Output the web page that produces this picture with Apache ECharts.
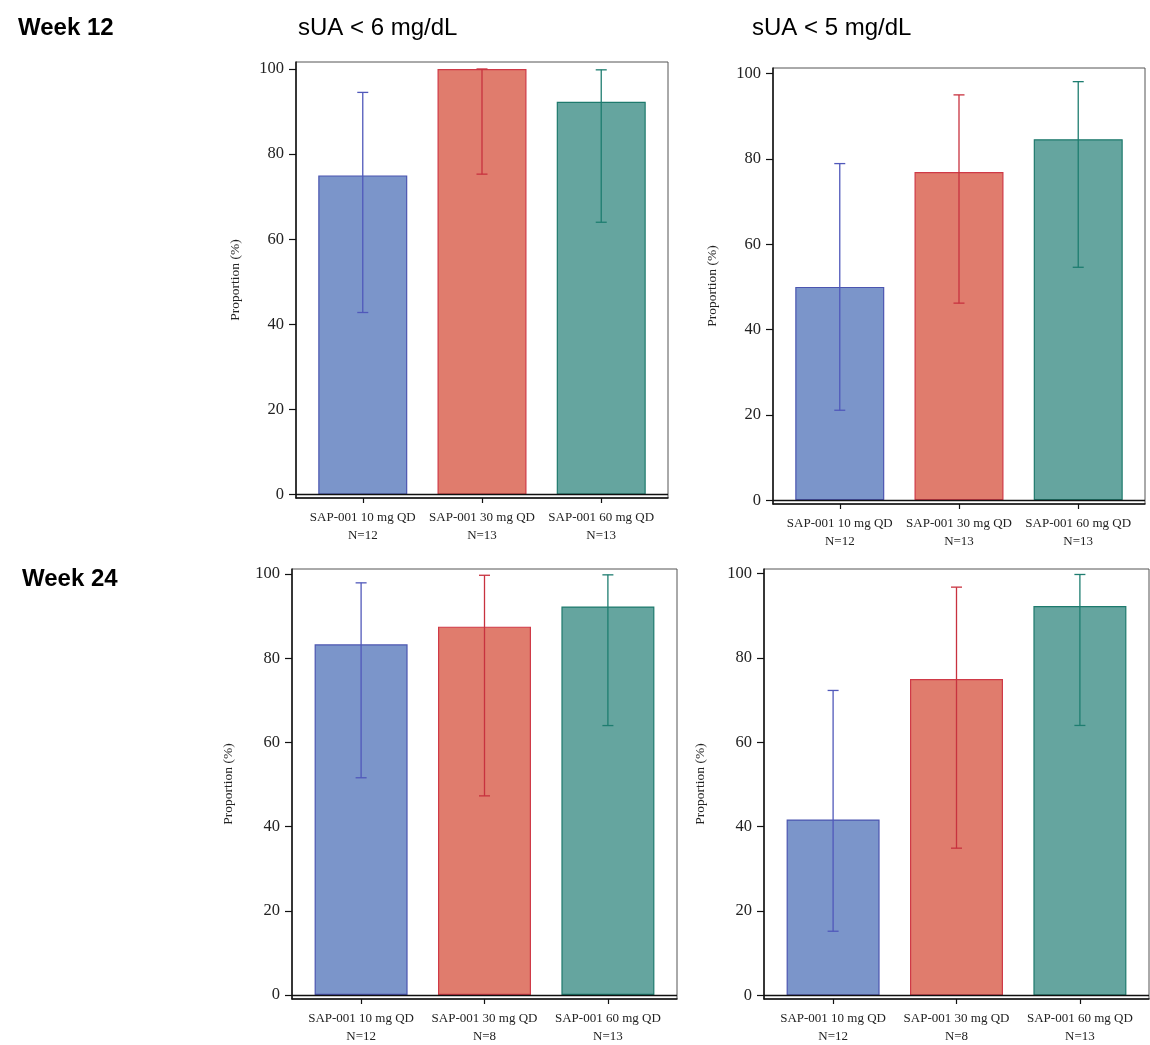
<!DOCTYPE html>
<html>
<head>
<meta charset="utf-8">
<script src="https://cdn.jsdelivr.net/npm/echarts@6/dist/echarts.min.js"></script>
<style>
html,body{margin:0;padding:0;background:#fff;}
#chart{width:1150px;height:1045px;}
</style>
</head>
<body>
<div id="chart"></div>
<script>
// ---- Data ----
const categories = ['SAP-001 10 mg QD', 'SAP-001 30 mg QD', 'SAP-001 60 mg QD'];
const nWeek12 = [12, 13, 13];
const nWeek24 = [12, 8, 13];
const yTicks = [0, 20, 40, 60, 80, 100];

const w12Lt6 = [75.0, 100.0, 92.3];
const w12Lt6Lo = [42.8, 75.3, 64.0];
const w12Lt6Hi = [94.5, 100.0, 99.8];

const w12Lt5 = [50.0, 76.9, 84.6];
const w12Lt5Lo = [21.1, 46.2, 54.6];
const w12Lt5Hi = [78.9, 95.0, 98.1];

const w24Lt6 = [83.3, 87.5, 92.3];
const w24Lt6Lo = [51.6, 47.3, 64.0];
const w24Lt6Hi = [97.9, 99.7, 99.8];

const w24Lt5 = [41.7, 75.0, 92.3];
const w24Lt5Lo = [15.2, 34.9, 64.0];
const w24Lt5Hi = [72.3, 96.8, 99.8];

const fillColors = ['#7B95CA', '#E07C6D', '#65A59F'];
const borderColors = ['#4B55B0', '#CF3A47', '#1E7A6D'];
const errColors = ['#5058BA', '#C8323F', '#1E7D70'];

// ---- Layout ----
const panels = [
  {left: 296, top: 62, width: 372, height: 436, ymin: -0.77, ymax: 101.64, bw: 89, nameGap: 54,
   vals: w12Lt6, lo: w12Lt6Lo, hi: w12Lt6Hi, ns: nWeek12},
  {left: 773, top: 68, width: 372, height: 436, ymin: -0.87, ymax: 101.3, bw: 89, nameGap: 54,
   vals: w12Lt5, lo: w12Lt5Lo, hi: w12Lt5Hi, ns: nWeek12},
  {left: 292, top: 569, width: 385, height: 431, ymin: -0.95, ymax: 101.19, bw: 93, nameGap: 57,
   vals: w24Lt6, lo: w24Lt6Lo, hi: w24Lt6Hi, ns: nWeek24},
  {left: 764, top: 569, width: 385, height: 433, ymin: -0.87, ymax: 101.1, bw: 93, nameGap: 57,
   vals: w24Lt5, lo: w24Lt5Lo, hi: w24Lt5Hi, ns: nWeek24}
];

const serif = '"Liberation Serif", "Times New Roman", serif';
const sans = '"Liberation Sans", Arial, sans-serif';

const grids = [], xAxes = [], yAxes = [], series = [];
panels.forEach((p, k) => {
  grids.push({left: p.left, top: p.top, width: p.width, height: p.height,
    show: true, borderColor: '#555', borderWidth: 1, backgroundColor: 'transparent'});
  xAxes.push({
    type: 'value', gridIndex: k, min: -0.56, max: 2.56,
    splitLine: {show: false},
    axisLine: {show: true, onZero: false, lineStyle: {color: '#111', width: 1.5}},
    axisTick: {show: true, length: 5, customValues: [0, 1, 2], lineStyle: {color: '#111', width: 1.2}},
    axisLabel: {
      customValues: [0, 1, 2], margin: 11,
      fontFamily: serif, fontSize: 13, color: '#222', lineHeight: 17.5,
      formatter: function (v) {
        const i = Math.round(v);
        return categories[i] + '\n' + 'N=' + p.ns[i];
      }
    }
  });
  yAxes.push({
    type: 'value', gridIndex: k, min: p.ymin, max: p.ymax,
    name: 'Proportion (%)', nameLocation: 'middle', nameRotate: 90, nameGap: p.nameGap,
    nameTextStyle: {fontFamily: serif, fontSize: 13.5, color: '#222'},
    splitLine: {show: false},
    axisLine: {show: true, onZero: false, lineStyle: {color: '#111', width: 1.5}},
    axisTick: {show: true, length: 7, customValues: yTicks, lineStyle: {color: '#111', width: 1.2}},
    axisLabel: {customValues: yTicks, margin: 12, fontFamily: serif, fontSize: 16.5, color: '#222'}
  });
  series.push({
    type: 'bar', xAxisIndex: k, yAxisIndex: k, barWidth: p.bw,
    data: p.vals.map((v, i) => ({value: [i, v],
      itemStyle: {color: fillColors[i], borderColor: borderColors[i], borderWidth: 1.2}})),
    markLine: {
      silent: true, symbol: 'none', label: {show: false},
      lineStyle: {color: '#111', width: 1.3, type: 'solid'},
      data: [{yAxis: 0}]
    },
    z: 2
  });
  series.push({
    type: 'custom', xAxisIndex: k, yAxisIndex: k, z: 5,
    encode: {x: 0, y: [1, 2]},
    data: p.vals.map((v, i) => [i, p.lo[i], p.hi[i]]),
    renderItem: function (params, api) {
      const x = api.value(0);
      const a = api.coord([x, api.value(1)]);
      const b = api.coord([x, api.value(2)]);
      const w = 5.5;
      const style = {stroke: errColors[params.dataIndex], lineWidth: 1.3};
      return {type: 'group', children: [
        {type: 'line', shape: {x1: a[0], y1: a[1], x2: b[0], y2: b[1]}, style: style},
        {type: 'line', shape: {x1: a[0] - w, y1: a[1], x2: a[0] + w, y2: a[1]}, style: style},
        {type: 'line', shape: {x1: b[0] - w, y1: b[1], x2: b[0] + w, y2: b[1]}, style: style}
      ]};
    }
  });
});

const titles = [
  {text: 'Week 12', left: 18, top: 16, padding: 0, textStyle: {fontFamily: sans, fontSize: 24, fontWeight: 'bold', color: '#000'}},
  {text: 'sUA < 6 mg/dL', left: 298, top: 16, padding: 0, textStyle: {fontFamily: sans, fontSize: 24, fontWeight: 'normal', color: '#000'}},
  {text: 'sUA < 5 mg/dL', left: 752, top: 16, padding: 0, textStyle: {fontFamily: sans, fontSize: 24, fontWeight: 'normal', color: '#000'}},
  {text: 'Week 24', left: 22, top: 567, padding: 0, textStyle: {fontFamily: sans, fontSize: 24, fontWeight: 'bold', color: '#000'}}
];

const chart = echarts.init(document.getElementById('chart'));
chart.setOption({
  animation: false,
  backgroundColor: '#fff',
  title: titles,
  grid: grids,
  xAxis: xAxes,
  yAxis: yAxes,
  series: series
});
</script>
</body>
</html>
